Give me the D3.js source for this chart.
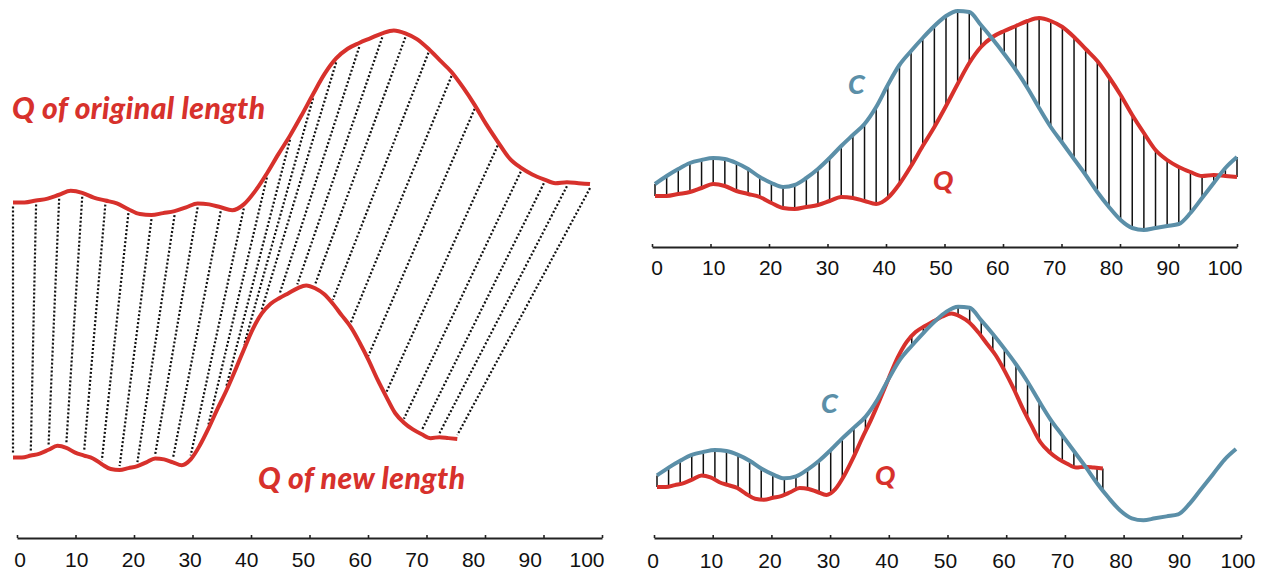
<!DOCTYPE html>
<html>
<head>
<meta charset="utf-8">
<script src="https://cdn.jsdelivr.net/npm/d3@7"></script>
<style>
  body { margin: 0; background: #fff; }
  svg { display: block; }
</style>
</head>
<body>
<div id="chart"></div>
<script>
// positions along the series (0..100), read every 2 units
var xs = [0, 2, 4, 6, 8, 10, 12, 14, 16, 18, 20, 22, 24, 26, 28, 30, 32, 34, 36, 38, 40,
          42, 44, 46, 48, 50, 52, 54, 56, 58, 60, 62, 64, 66, 68, 70, 72, 74, 76, 78, 80,
          82, 84, 86, 88, 90, 92, 94, 96, 98, 100];

// Q, original length
var qVals = [44, 44, 46, 48, 52, 56, 54, 49, 46, 43, 37, 32, 31, 33, 35, 39, 43, 42, 39, 36, 42,
             56, 74, 94, 113, 134, 156, 177, 193, 203, 209, 214, 219, 222, 219, 213, 203, 191, 179, 163, 145,
             125, 107, 90, 80, 73, 68, 64, 65, 64, 63];

// C
var cVals = [56, 64, 71, 77, 80, 82, 81, 77, 71, 63, 57, 53, 55, 62, 71, 82, 94, 105, 116, 133, 155,
             175, 189, 202, 214, 224, 229, 228, 215, 201, 186, 170, 152, 132, 113, 97, 81, 65, 48, 33, 20,
             12, 10, 12, 14, 16, 27, 42, 57, 72, 83];

var newLength = 77;   // Q rescaled to this length
var tickVals = [0, 10, 20, 30, 40, 50, 60, 70, 80, 90, 100];
var dotStep = 4;      // every 4th unit joined by a dotted line
var hatchStep = 2;

var w = 1275, h = 576;
var red = "#d7312c", blue = "#5b8fa8";

var svg = d3.select("#chart").append("svg")
  .attr("width", w)
  .attr("height", h);

var ratio = newLength / 100;
var qAt = d3.scaleLinear().domain(xs).range(qVals);
var cAt = d3.scaleLinear().domain(xs).range(cVals);

// scales for each panel
var xL = d3.scaleLinear().domain([0, 100]).range([13, 590]);
var yLT = d3.scaleLinear().domain([0, 240]).range([245, 13]);
var yLB = d3.scaleLinear().domain([0, 240]).range([500, 268]);

var xT = d3.scaleLinear().domain([0, 100]).range([655, 1237]);
var yT = d3.scaleLinear().domain([0, 240]).range([240, 0]);

var xB = d3.scaleLinear().domain([0, 100]).range([657, 1236]);
var yB = d3.scaleLinear().domain([0, 240]).range([530, 296]);

var qData = xs.map(function(x, i) { return { x: x, v: qVals[i] }; });
var cData = xs.map(function(x, i) { return { x: x, v: cVals[i] }; });
var qNewData = qData.map(function(d) { return { x: d.x * ratio, v: d.v }; });

function makeLine(xs_, ys_) {
  return d3.line()
    .x(function(d) { return xs_(d.x); })
    .y(function(d) { return ys_(d.v); })
    .curve(d3.curveMonotoneX);
}

function drawAxis(tickRange, labelRange, y, labelY) {
  var xt = d3.scaleLinear().domain([0, 100]).range(tickRange);
  var xl = d3.scaleLinear().domain([0, 100]).range(labelRange);
  var g = svg.append("g")
    .attr("transform", "translate(0," + y + ")")
    .call(d3.axisBottom(xt).tickValues(tickVals).tickSizeInner(-3).tickSizeOuter(0).tickFormat(""));
  g.select(".domain").attr("stroke", "#222").attr("stroke-width", 2);
  g.selectAll(".tick line").attr("stroke", "#222").attr("stroke-width", 1.6);

  svg.append("g").selectAll("text")
    .data(tickVals)
    .enter()
    .append("text")
    .attr("x", function(d) { return xl(d); })
    .attr("y", labelY)
    .attr("text-anchor", "middle")
    .attr("font-family", "Liberation Sans, Arial, sans-serif")
    .attr("font-size", "21px")
    .attr("fill", "#111")
    .text(function(d) { return d; });
}

function label(txt, x, y, color, size, len) {
  var t = svg.append("text")
    .attr("x", x)
    .attr("y", y)
    .attr("font-family", "Lato, 'Open Sans', sans-serif")
    .attr("font-weight", "900")
    .attr("font-style", "italic")
    .attr("font-size", size + "px")
    .attr("fill", color)
    .text(txt);
  if (len) t.attr("textLength", len).attr("lengthAdjust", "spacing");
}

// ---- left panel: Q stretched onto its new length ----
var dotIdx = xs.filter(function(x) { return x % dotStep === 0; });

svg.append("g").selectAll("line")
  .data(dotIdx)
  .enter()
  .append("line")
  .attr("x1", function(d) { return xL(d); })
  .attr("y1", function(d) { return yLT(qAt(d)) + 4; })
  .attr("x2", function(d) { return xL(d * ratio); })
  .attr("y2", function(d) { return yLB(qAt(d)) - 4; })
  .attr("stroke", "#111")
  .attr("stroke-width", 2.2)
  .attr("stroke-dasharray", "2,2");

svg.append("path").datum(qData)
  .attr("d", makeLine(xL, yLT))
  .attr("fill", "none").attr("stroke", red).attr("stroke-width", 4);

svg.append("path").datum(qNewData)
  .attr("d", makeLine(xL, yLB))
  .attr("fill", "none").attr("stroke", red).attr("stroke-width", 4);

label("Q of original length", 12, 119, red, 30, 253);
label("Q of new length", 258, 489, red, 30, 207);
drawAxis([17, 602], [20, 587], 538, 567);

// ---- top right: C against Q of original length ----
var hatchT = xs.filter(function(x) { return x % hatchStep === 0; });

svg.append("g").selectAll("line")
  .data(hatchT)
  .enter()
  .append("line")
  .attr("x1", function(d) { return xT(d); })
  .attr("x2", function(d) { return xT(d); })
  .attr("y1", function(d) { return yT(cAt(d)); })
  .attr("y2", function(d) { return yT(qAt(d)); })
  .attr("stroke", "#111")
  .attr("stroke-width", 1.5);

svg.append("path").datum(qData)
  .attr("d", makeLine(xT, yT))
  .attr("fill", "none").attr("stroke", red).attr("stroke-width", 4);

svg.append("path").datum(cData)
  .attr("d", makeLine(xT, yT))
  .attr("fill", "none").attr("stroke", blue).attr("stroke-width", 4);

label("C", 848, 94, blue, 27);
label("Q", 933, 190, red, 27);
drawAxis([652, 1237], [657, 1225], 247, 275);

// ---- bottom right: C against Q of new length ----
var hatchB = xs.filter(function(x) { return x <= newLength; }).concat([newLength]);

svg.append("g").selectAll("line")
  .data(hatchB)
  .enter()
  .append("line")
  .attr("x1", function(d) { return xB(d); })
  .attr("x2", function(d) { return xB(d); })
  .attr("y1", function(d) { return yB(cAt(d)); })
  .attr("y2", function(d) { return yB(qAt(d / ratio)); })
  .attr("stroke", "#111")
  .attr("stroke-width", 1.5);

svg.append("path").datum(qNewData)
  .attr("d", makeLine(xB, yB))
  .attr("fill", "none").attr("stroke", red).attr("stroke-width", 4);

svg.append("path").datum(cData)
  .attr("d", makeLine(xB, yB))
  .attr("fill", "none").attr("stroke", blue).attr("stroke-width", 4);

label("C", 821, 413, blue, 27);
label("Q", 875, 485, red, 27);
drawAxis([654, 1241], [653, 1238], 538, 568);
</script>
</body>
</html>
